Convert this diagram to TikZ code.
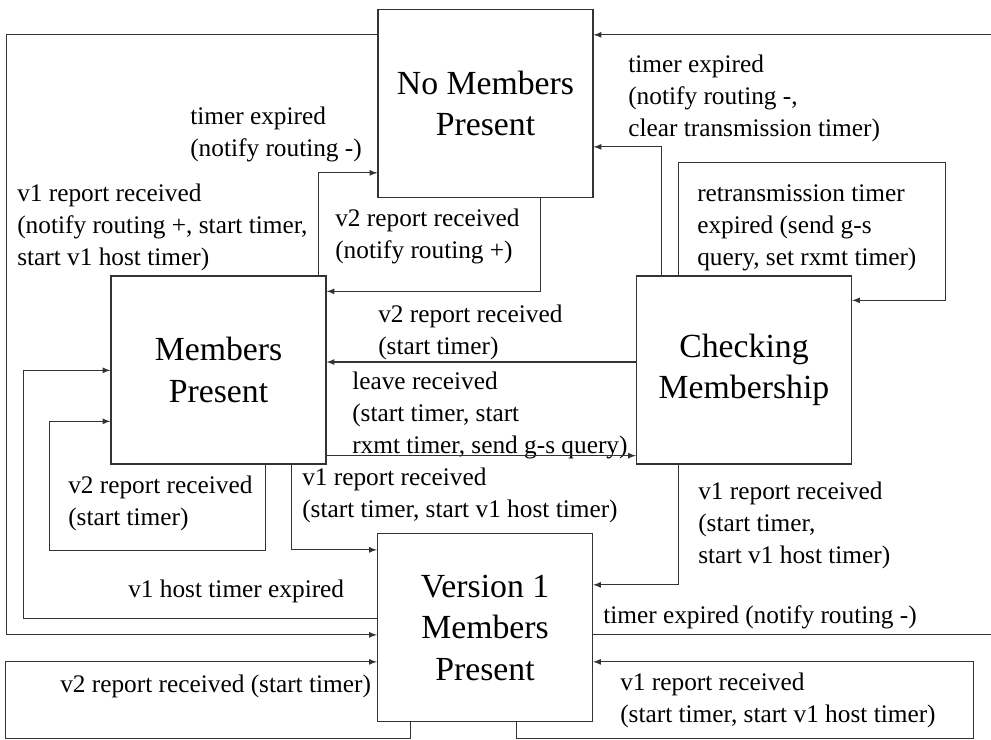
\documentclass[tikz,border=0pt]{standalone}
\usepackage{fontspec}
\setmainfont{Liberation Serif}
\usetikzlibrary{calc}

\begin{document}
\begin{tikzpicture}[x=0.025cm,y=-0.025cm,
    state/.style={draw=black!80,line width=0.9pt,minimum width=5.375cm,minimum height=4.7cm,inner sep=0pt,align=center,font=\fontsize{24}{29.5}\selectfont},
    lbl/.style={anchor=base west,align=left,inner sep=0pt,font=\fontsize{18}{22.5}\selectfont},
    link/.style={-latex,draw=black!80,line width=0.9pt}]
      \useasboundingbox (0,0) rectangle (991,739);

      \node[state] (none) at (485.5,103.5) {No Members\\Present};
      \node[state] (members) at (218.5,370) {Members\\Present};
      \node[state] (checking) at (744,370) {Checking\\Membership};
      \node[state] (version1) at (485,627.5) {Version 1\\Members\\Present};

      % labels sit on the baseline of their last line
      \node[lbl] (members expired) at (190,156) {timer expired\\(notify routing -)};
      \node[lbl] (none v1 report) at (17,265) {v1 report received\\(notify routing +, start timer,\\start v1 host timer)};
      \node[lbl] (none v2 report) at (335,258) {v2 report received\\(notify routing +)};
      \node[lbl] (checking expired) at (628,136) {timer expired\\(notify routing -,\\clear transmission timer)};
      \node[lbl] (rxmt expired) at (697,265) {retransmission timer\\expired (send g-s\\query, set rxmt timer)};
      \node[lbl] (checking v2 report) at (378,354) {v2 report received\\(start timer)};
      \node[lbl] (leave) at (352,453) {leave received\\(start timer, start\\rxmt timer, send g-s query)};
      \node[lbl] (members v1 report) at (302,517) {v1 report received\\(start timer, start v1 host timer)};
      \node[lbl] (members v2 report) at (68,525) {v2 report received\\(start timer)};
      \node[lbl] (host expired) at (128,597) {v1 host timer expired};
      \node[lbl] (version1 v2 report) at (60,692) {v2 report received (start timer)};
      \node[lbl] (checking v1 report) at (698,563) {v1 report received\\(start timer,\\start v1 host timer)};
      \node[lbl] (version1 expired) at (603,623) {timer expired (notify routing -)};
      \node[lbl] (version1 v1 report) at (620,722) {v1 report received\\(start timer, start v1 host timer)};

      \draw[link] ($(none.north west)+(0,26)$) -- ++(-371,0) |- ($(version1.north west)+(0,102)$);
      \draw[link] ($(version1.north east)+(0,102)$) -- ++(420,0) |- ($(none.north east)+(0,26)$);
      \draw[link] ($(members.north east)+(-8,0)$) |- ($(none.north west)+(0,164)$);
      \draw[link] ($(none.south west)+(163,0)$) |- ($(members.north east)+(0,16)$);
      \draw[link] ($(checking.north west)+(26,0)$) |- ($(none.north east)+(0,138)$);
      \draw[link] ($(checking.north west)+(43,0)$) |- ++(267,-113) |- ($(checking.north east)+(0,25)$);
      \draw[link] ($(checking.west)+(0,-8)$) -- ($(members.east)+(0,-8)$);
      \draw[link] ($(members.south east)+(0,-9)$) -- ($(checking.south west)+(0,-9)$);
      \draw[link] ($(version1.north west)+(0,86)$) -- ++(-353,0) |- ($(members.north west)+(0,95)$);
      \draw[link] ($(members.south west)+(155,0)$) |- ++(-216,86) |- ($(members.north west)+(0,146)$);
      \draw[link] ($(members.south west)+(181,0)$) |- ($(version1.north west)+(0,17)$);
      \draw[link] ($(checking.south west)+(43,0)$) |- ($(version1.north east)+(0,52)$);
      \draw[link] ($(version1.south west)+(34,0)$) |- ++(-405,16) |- ($(version1.north west)+(0,129)$);
      \draw[link] ($(version1.south east)+(-77,0)$) |- ++(457,16) |- ($(version1.north east)+(0,129)$);
    \end{tikzpicture}
\end{document}
